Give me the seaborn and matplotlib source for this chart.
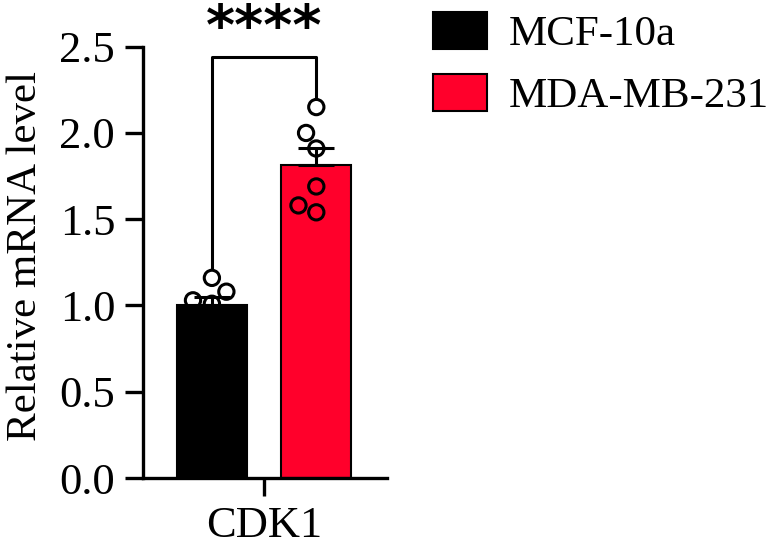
import numpy as np
import pandas as pd
import seaborn as sns
import matplotlib.pyplot as plt

gene = "CDK1"
groups = ["MCF-10a", "MDA-MB-231"]
mcf10a = [1.16, 1.08, 1.03, 1.01, 0.87, 0.85]
mda231 = [2.15, 2.00, 1.91, 1.69, 1.58, 1.54]
bar_colors = ["#000000", "#FF002B"]
ylabel = "Relative mRNA level"
sig = "****"

df = pd.DataFrame({
    "gene": gene,
    "cell": [groups[0]] * len(mcf10a) + [groups[1]] * len(mda231),
    "value": mcf10a + mda231,
})

sns.set_theme(style="ticks")
plt.rcParams["font.family"] = ["Liberation Serif", "DejaVu Serif"]
plt.rcParams["text.color"] = "black"
plt.rcParams["axes.labelcolor"] = "black"
plt.rcParams["axes.edgecolor"] = "black"
plt.rcParams["xtick.color"] = "black"
plt.rcParams["ytick.color"] = "black"

fig = plt.figure(figsize=(7.75, 5.48), dpi=100)
ax = fig.add_axes([0.1845, 0.1277, 0.3149, 0.7871])

sns.barplot(data=df, x="gene", y="value", hue="cell", hue_order=groups,
            palette=bar_colors, saturation=1, errorbar=None, gap=0.33,
            edgecolor="black", linewidth=1.5, ax=ax)
bar_conts = list(ax.containers)

# small swarm size for placement (points overlap like the original), then enlarge
sns.swarmplot(data=df, x="gene", y="value", hue="cell", hue_order=groups,
              dodge=True, size=8, palette=["black", "black"],
              linewidth=2.2, edgecolor="black", legend=False, ax=ax)
for coll in ax.collections:
    coll.set_facecolor("none")
    coll.set_edgecolor("black")
    coll.set_sizes([11 ** 2])

# SEM error bars, upward only
stats = df.groupby("cell")["value"].agg(["mean", "sem", "max"]).reindex(groups)
centers = []
for cont, (_, row) in zip(bar_conts, stats.iterrows()):
    bar = cont.patches[0]
    cx = bar.get_x() + bar.get_width() / 2
    centers.append(cx)
    ax.errorbar(cx, row["mean"], yerr=[[0], [row["sem"]]], color="black",
                elinewidth=2.2, capsize=13, capthick=2.2, zorder=4)

# significance bracket
top = 2.44
ax.plot([centers[0], centers[0], centers[1], centers[1]],
        [stats["max"].iloc[0] + 0.05, top, top, stats["max"].iloc[1] + 0.05],
        color="black", lw=2.2, clip_on=False)
ax.text(np.mean(centers), 2.515, sig, ha="center", va="baseline",
        fontsize=40, fontweight="bold", family="DejaVu Sans", clip_on=False)

ax.set_xlim(-0.464, 0.471)
ax.set_ylim(0, 2.5)
ax.set_yticks(np.arange(0, 2.51, 0.5))
ax.set_yticklabels([f"{v:.1f}" for v in np.arange(0, 2.51, 0.5)])
ax.set_xlabel("")
ax.set_ylabel(ylabel, fontsize=31)
ax.yaxis.set_label_coords(-0.40, 0.515)
ax.tick_params(labelsize=32, length=13, width=2.4, pad=7)
sns.despine(ax=ax)
for s in ["left", "bottom"]:
    ax.spines[s].set_linewidth(2.4)

handles, labels = ax.get_legend_handles_labels()
ax.get_legend().remove()
fig.legend(handles[:2], labels[:2], loc="upper left",
           bbox_to_anchor=(433 / 775, 1 - 12 / 548), frameon=False,
           fontsize=31, handlelength=1.25, handleheight=0.95,
           handletextpad=0.5, labelspacing=0.45, borderpad=0,
           borderaxespad=0)

fig.savefig("out.png", dpi=100)
